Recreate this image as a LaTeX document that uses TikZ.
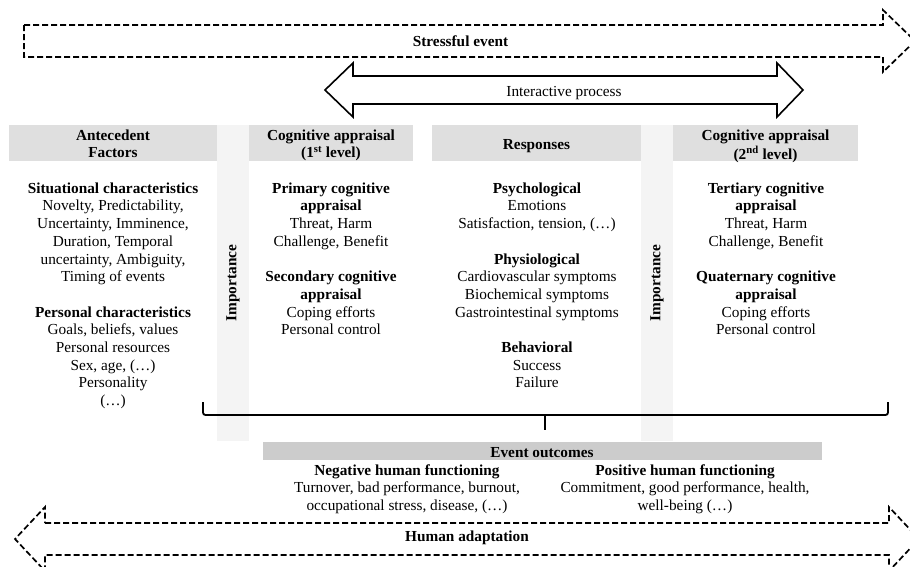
\documentclass[tikz,border=0pt]{standalone}
\usepackage{fontspec}
\setmainfont{Liberation Serif}
\newcommand\fsz{\fontsize{15.3}{17.7}\selectfont}
\definecolor{hdrgray}{gray}{0.875}
\definecolor{stripgray}{gray}{0.955}
\definecolor{bargray}{gray}{0.80}
\begin{document}
\begin{tikzpicture}[x=1pt,y=-1pt,
  hdrbox/.style={fill=hdrgray, draw=none, inner sep=0pt},
  stripbox/.style={fill=stripgray, draw=none, inner sep=0pt},
  coltext/.style={font=\fsz, align=center, inner sep=0pt, anchor=north},
  onetext/.style={font=\fsz, inner sep=0pt, anchor=base},
  dasharrow/.style={draw=black, line width=1.7pt, dash pattern=on 6pt off 3pt, line join=miter},
  solidarrow/.style={draw=black, line width=1.6pt, line join=miter},
  bracestyle/.style={draw=black, line width=1.8pt, rounded corners=2.5pt}
]
\useasboundingbox (0,0) rectangle (910,566);
% background strips
\node[stripbox, minimum width=32pt, minimum height=316pt] (s1) at (233,283) {};
\node[stripbox, minimum width=32pt, minimum height=316pt] (s2) at (657,283) {};
% header boxes
\node[hdrbox, minimum width=208pt, minimum height=36pt] (h1) at (113,143) {};
\node[hdrbox, minimum width=164pt, minimum height=36pt] (h2) at (331,143) {};
\node[hdrbox, minimum width=209pt, minimum height=36pt] (h3) at (536.5,143) {};
\node[hdrbox, minimum width=185pt, minimum height=36pt] (h4) at (765.5,143) {};
\node[coltext] (t1) at (113,127.6) {\strut\textbf{Antecedent}\\\textbf{Factors}};
\node[coltext] (t2) at (331,127.6) {\strut\textbf{Cognitive appraisal}\\\textbf{(1\textsuperscript{st} level)}};
\node[onetext] (t3) at (536.5,149) {\textbf{Responses}};
\node[coltext] (t4) at (765.5,127.6) {\strut\textbf{Cognitive appraisal}\\\textbf{(2\textsuperscript{nd} level)}};
% importance labels
\node[font=\fsz\bfseries, rotate=90, inner sep=0pt] (imp1) at (s1.center) {Importance};
\node[font=\fsz\bfseries, rotate=90, inner sep=0pt] (imp2) at (s2.center) {Importance};
% column texts
\node[coltext] (c1) at (113,180.6) {\strut\textbf{Situational characteristics}\\
 Novelty, Predictability,\\ Uncertainty, Imminence,\\ Duration, Temporal\\ uncertainty, Ambiguity,\\ Timing of events\\[17.7pt]
 \textbf{Personal characteristics}\\ Goals, beliefs, values\\ Personal resources\\ Sex, age, (…)\\ Personality\\ (…)};
\node[coltext] (c2) at (331,180.6) {\strut\textbf{Primary cognitive}\\ \textbf{appraisal}\\ Threat, Harm\\ Challenge, Benefit\\[17.7pt]
 \textbf{Secondary cognitive}\\ \textbf{appraisal}\\ Coping efforts\\ Personal control};
\node[coltext] (c3) at (537,180.6) {\strut\textbf{Psychological}\\ Emotions\\ Satisfaction, tension, (…)\\[17.7pt]
 \textbf{Physiological}\\ Cardiovascular symptoms\\ Biochemical symptoms\\ Gastrointestinal symptoms\\[17.7pt]
 \textbf{Behavioral}\\ Success\\ Failure};
\node[coltext] (c4) at (766,180.6) {\strut\textbf{Tertiary cognitive}\\ \textbf{appraisal}\\ Threat, Harm\\ Challenge, Benefit\\[17.7pt]
 \textbf{Quaternary cognitive}\\ \textbf{appraisal}\\ Coping efforts\\ Personal control};
% brace
\coordinate (bl) at (203,402);
\coordinate (br) at (888,402);
\coordinate (bm) at (545,415);
\coordinate (bt) at (545,430);
\draw[bracestyle] (bl) -- (203,415) -- (888,415) -- (br);
\draw[line width=2pt] (bm) -- (bt);
% event outcomes
\node[fill=bargray, draw=none, inner sep=0pt, minimum width=559pt, minimum height=18pt] (eo) at (542.5,451) {};
\node[onetext] (eot) at (542,457) {\textbf{Event outcomes}};
\node[coltext] (neg) at (407,462.6) {\strut\textbf{Negative human functioning}\\ Turnover, bad performance, burnout,\\ occupational stress, disease, (…)};
\node[coltext] (pos) at (685,462.6) {\strut\textbf{Positive human functioning}\\ Commitment, good performance, health,\\ well-being (…)};
% stressful event arrow
\draw[dasharrow] (24,25) -- (883,25) -- (883,10) -- (915,41) -- (883,72) -- (883,57) -- (24,57) -- cycle;
\node[onetext] (se) at (460.5,46) {\textbf{Stressful event}};
% interactive process arrow
\draw[solidarrow] (325,90) -- (353,63) -- (353,76) -- (777,76) -- (777,63) -- (803,90) -- (777,117) -- (777,104) -- (353,104) -- (353,117) -- cycle;
\node[onetext] (ip) at (564,96) {Interactive process};
% human adaptation arrow
\draw[dasharrow] (45,523) -- (889,523) -- (889,507) -- (919,539) -- (889,571) -- (889,555) -- (45,555) -- (45,571) -- (15,539) -- (45,507) -- cycle;
\node[onetext] (ha) at (467,541) {\textbf{Human adaptation}};
\end{tikzpicture}
\end{document}
